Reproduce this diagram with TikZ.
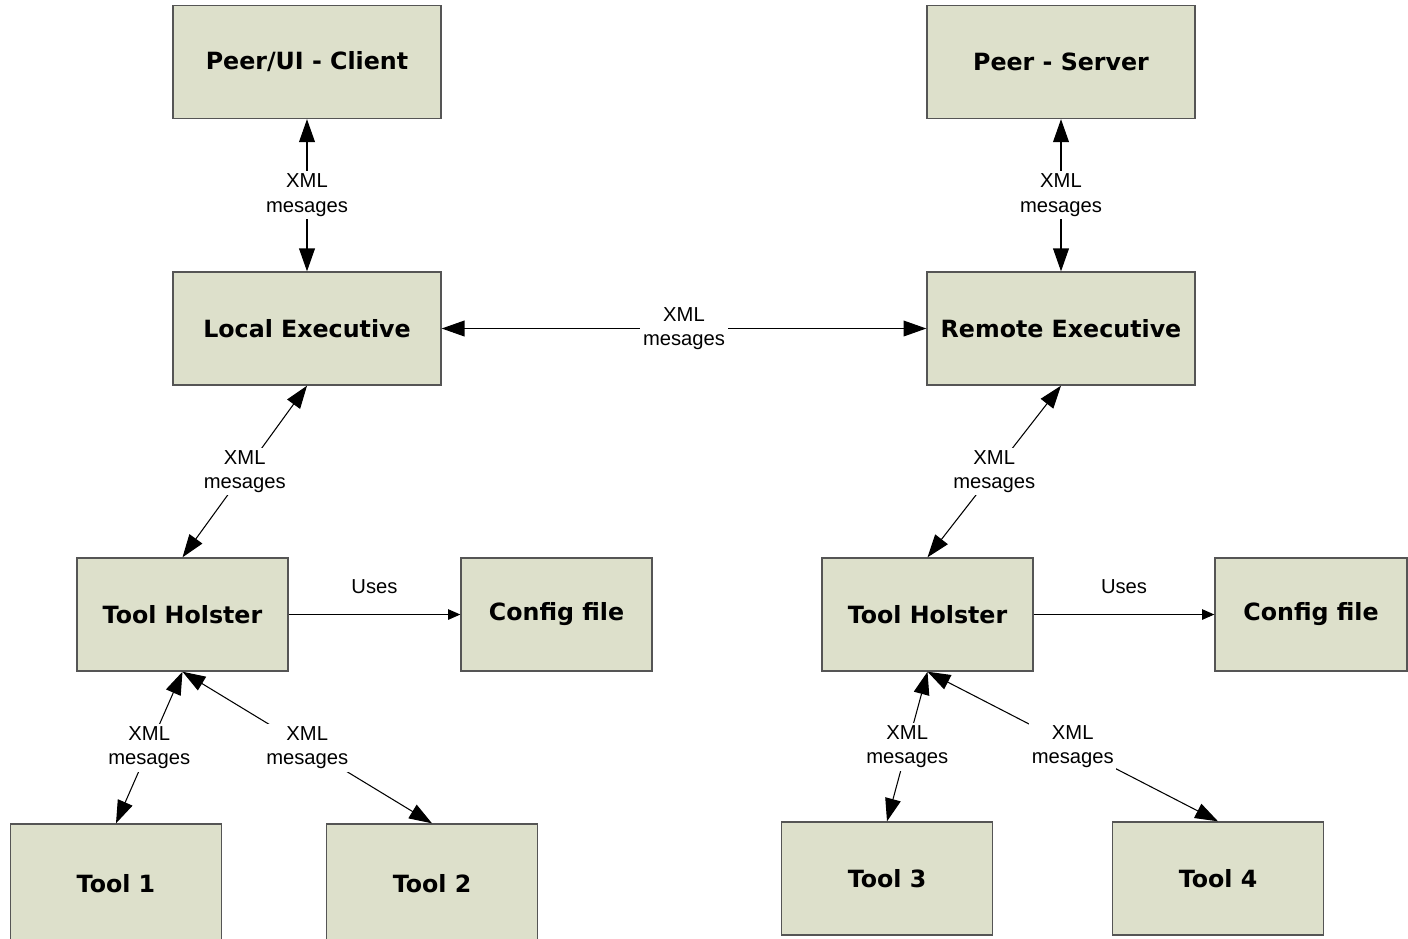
\documentclass[tikz,border=0pt]{standalone}
\usepackage{fontspec}
\setmainfont{Liberation Sans}
\newfontfamily\boxfont{DejaVu Sans}
\usetikzlibrary{arrows.meta}

\definecolor{boxfill}{HTML}{DDE0CB}
\definecolor{boxline}{HTML}{555555}

\tikzset{
  unit/.style={draw=boxline, fill=boxfill, line width=0.8pt, minimum height=2.26cm,
    font=\boxfont\bfseries\fontsize{13.5}{16}\selectfont},
  bigunit/.style={unit, minimum width=5.36cm},
  smallunit/.style={unit, minimum width=4.22cm},
  lbl/.style={fill=white, inner sep=1.5pt, align=center, font=\fontsize{11.5}{14}\selectfont},
  msg/.style={line width=0.6pt, {Triangle[length=13pt,width=9pt]}-{Triangle[length=13pt,width=9pt]}},
  uses/.style={line width=0.6pt, -{Triangle[length=7pt,width=6pt]}}
}

\begin{document}
\begin{tikzpicture}[x=0.02cm, y=-0.02cm]
        % keep the page size of the original
        \useasboundingbox[fill=white] (0,0) rectangle (1408,938);

        % Peers on top
        \node[bigunit] (client) at (307,62) {Peer/UI - Client};
        \node[bigunit] (server) at (1061,62) {Peer - Server};

        % Executives
        \node[bigunit] (local) at (307,328.5) {Local Executive};
        \node[bigunit] (remote) at (1061,328.5) {Remote Executive};

        % Holsters and their config files
        \node[smallunit] (holsterL) at (182.5,614.5) {Tool Holster};
        \node[unit, minimum width=3.82cm] (configL) at (556.5,614.5) {Config file};
        \node[smallunit] (holsterR) at (927.5,614.5) {Tool Holster};
        \node[unit, minimum width=3.84cm] (configR) at (1311,614.5) {Config file};

        % Tools at the bottom (left ones run off the page)
        \node[smallunit, minimum height=2.4cm] (tool1) at (116,884) {Tool 1};
        \node[smallunit, minimum height=2.4cm] (tool2) at (432,884) {Tool 2};
        \node[smallunit] (tool3) at (887,878.5) {Tool 3};
        \node[smallunit] (tool4) at (1218,878.5) {Tool 4};

        % XML messages between peers and executives
        \draw[msg] (client) -- node[lbl] {XML\\mesages} (local);
        \draw[msg] (server) -- node[lbl] {XML\\mesages} (remote);
        \draw[msg] (local) -- node[lbl] {XML\\mesages} (remote);

        % Executives down to the holsters
        \draw[msg] (local.south) -- node[lbl] {XML\\mesages} (holsterL.north);
        \draw[msg] (remote.south) -- node[lbl] {XML\\mesages} (holsterR.north);

        % Holsters use config files
        \draw[uses] (holsterL) -- node[lbl, above=10pt] {Uses} (configL);
        \draw[uses] (holsterR) -- node[lbl, above=10pt] {Uses} (configR);

        % Holsters down to the tools
        \draw[msg] (holsterL.south) -- node[lbl] {XML\\mesages} (tool1.north);
        \draw[msg] (holsterL.south) -- node[lbl] {XML\\mesages} (tool2.north);
        \draw[msg] (holsterR.south) -- node[lbl] {XML\\mesages} (tool3.north);
        \draw[msg] (holsterR.south) -- node[lbl] {XML\\mesages} (tool4.north);
\end{tikzpicture}
\end{document}
